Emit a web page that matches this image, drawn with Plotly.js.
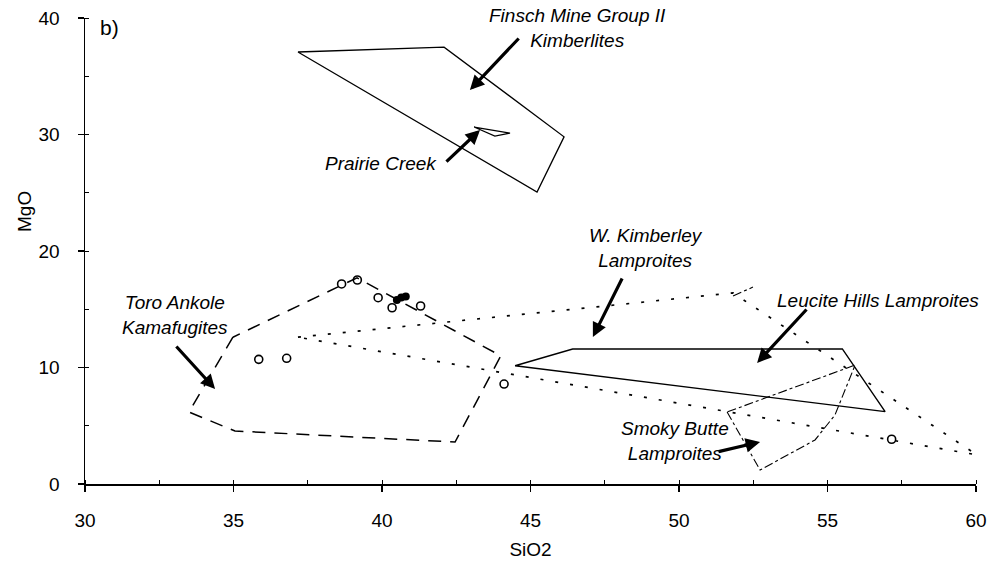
<!DOCTYPE html>
<html><head><meta charset="utf-8">
<script src="https://cdn.plot.ly/plotly-3.0.1.min.js"></script>
<style>html,body{margin:0;padding:0;background:#fff}#chart{width:993px;height:564px}</style>
</head><body><div id="chart"></div>
<script>
// ---- data (SiO2 wt%, MgO wt%) ----
const finschX = [37.17, 42.09, 46.13, 45.22, 37.17];
const finschY = [37.08, 37.50, 29.80, 25.06, 37.08];
const prairieX = [43.10, 44.31, 43.80, 43.10];
const prairieY = [30.64, 30.12, 29.87, 30.64];
const toroX = [34.98, 33.50, 35.05, 42.46, 44.00, 39.16, 34.98];
const toroY = [12.60, 6.18, 4.55, 3.60, 11.00, 17.70, 12.60];
const wkX = [44.48, 46.42, 55.50, 56.94, 44.48];
const wkY = [10.15, 11.59, 11.59, 6.21, 10.15];
const dottedX = [37.17, 51.82, 60.03, 37.17];
const dottedY = [12.60, 16.40, 2.50, 12.60];
const smokyX = [51.62, 52.73, 54.58, 55.25, 55.93, 51.62, null, 51.82, 52.49];
const smokyY = [6.18, 1.20, 3.78, 5.92, 10.21, 6.18, null, 16.14, 16.90];
const openX = [38.64, 39.17, 39.87, 40.34, 41.30, 35.85, 36.79, 44.11, 57.16];
const openY = [17.17, 17.51, 15.99, 15.13, 15.28, 10.70, 10.79, 8.58, 3.84];
const filledX = [40.50, 40.65, 40.80];
const filledY = [15.80, 16.00, 16.10];

// labels and arrows (head x,y ; tail x,y)
const labelText = ["Finsch Mine Group II<br>Kimberlites", "Prairie Creek", "W. Kimberley<br>Lamproites",
                   "Leucite Hills Lamproites", "Smoky Butte<br>Lamproites", "Toro Ankole<br>Kamafugites"];
const labelX = [46.57, 39.97, 48.89, 56.70, 49.87, 33.03];
const labelY = [39.14, 27.47, 20.26, 15.71, 3.69, 14.50];
const arrowHeadX = [42.96, 43.30, 47.10, 52.63, 52.73, 34.38];
const arrowHeadY = [33.82, 30.39, 12.62, 10.39, 3.61, 8.15];
const arrowTailX = [44.65, 42.12, 48.11, 54.34, 51.28, 33.03];
const arrowTailY = [38.37, 27.55, 17.77, 15.11, 2.75, 11.93];

const xTitle = "SiO2", yTitle = "MgO", panelLabel = "b)";

const FONT = "Arial, 'Liberation Sans', sans-serif";
const FS = 19;
const line = (x, y, dash, w) => ({x, y, type: 'scatter', mode: 'lines', connectgaps: false,
  line: {color: 'black', width: w, dash}, hoverinfo: 'skip', showlegend: false});

const traces = [
  line(finschX, finschY, 'solid', 1.3),
  line(prairieX, prairieY, 'solid', 1.2),
  line(toroX, toroY, '13px,9px', 1.5),
  line(wkX, wkY, 'solid', 1.4),
  line(dottedX, dottedY, '3px,12px', 1.7),
  line(smokyX, smokyY, 'dashdot', 1.1),
  {x: openX, y: openY, type: 'scatter', mode: 'markers', showlegend: false,
   marker: {symbol: 'circle-open', size: 8, color: 'black', line: {width: 1.6}}},
  {x: filledX, y: filledY, type: 'scatter', mode: 'markers', showlegend: false,
   marker: {symbol: 'circle', size: 8, color: 'black'}}
];

const annotations = [];
for (let i = 0; i < labelText.length; i++) {
  annotations.push({x: labelX[i], y: labelY[i], xref: 'x', yref: 'y', text: labelText[i], showarrow: false,
    font: {family: FONT, size: FS, color: 'black', style: 'italic'}, xanchor: 'center', yanchor: 'middle'});
  annotations.push({x: arrowHeadX[i], y: arrowHeadY[i], ax: arrowTailX[i], ay: arrowTailY[i],
    xref: 'x', yref: 'y', axref: 'x', ayref: 'y', text: '', showarrow: true,
    arrowhead: 2, arrowsize: 0.9, arrowwidth: 3.2, arrowcolor: 'black'});
}
annotations.push({x: 30.84, y: 39.2, xref: 'x', yref: 'y', text: panelLabel, showarrow: false,
  font: {family: FONT, size: 21, color: 'black'}, xanchor: 'center', yanchor: 'middle'});
annotations.push({x: (24 - 85) / (993 - 85 - 17), y: (564 - 80 - 212) / (564 - 18 - 80),
  xref: 'paper', yref: 'paper', text: yTitle, showarrow: false, textangle: -90,
  xanchor: 'center', yanchor: 'middle', font: {family: FONT, size: FS, color: 'black'}});

const layout = {
  width: 993, height: 564,
  margin: {l: 85, r: 17, t: 18, b: 80},
  paper_bgcolor: 'white', plot_bgcolor: 'white',
  font: {family: FONT, size: FS, color: 'black'},
  showlegend: false,
  xaxis: {range: [30, 60], tick0: 30, dtick: 5, showgrid: false, zeroline: false,
    showline: true, linecolor: 'black', linewidth: 1.5,
    ticks: 'outside', ticklen: 6, tickwidth: 1.3, tickcolor: 'black',
    ticklabelstandoff: 13, tickfont: {size: FS},
    minor: {dtick: 2.5, ticks: 'inside', ticklen: 4, tickcolor: 'black', tickwidth: 1},
    title: {text: xTitle, font: {size: FS}, standoff: 12}},
  yaxis: {range: [0, 40], tick0: 0, dtick: 10, showgrid: false, zeroline: false,
    showline: true, linecolor: 'black', linewidth: 1.5,
    ticks: 'outside', ticklen: 6, tickwidth: 1.3, tickcolor: 'black',
    ticklabelstandoff: 14, tickfont: {size: FS},
    minor: {dtick: 5, ticks: 'inside', ticklen: 4, tickcolor: 'black', tickwidth: 1}},
  annotations
};

Plotly.newPlot('chart', traces, layout, {displayModeBar: false, staticPlot: true});
</script></body></html>
